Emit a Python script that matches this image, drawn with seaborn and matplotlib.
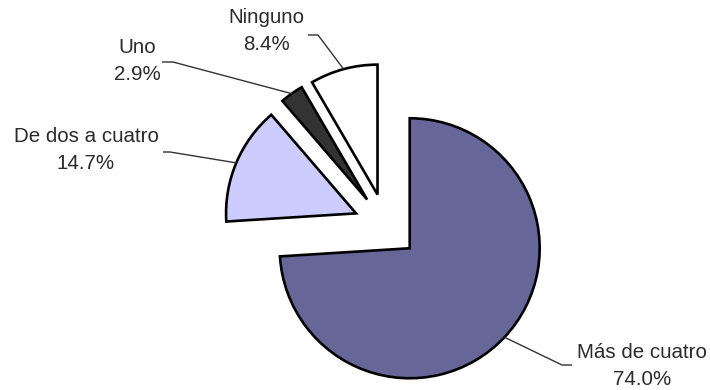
import numpy as np
import matplotlib
matplotlib.use("Agg")
import matplotlib.pyplot as plt
import seaborn as sns

# Share of households by number of items
categories = ["Ninguno", "Uno", "De dos a cuatro", "Más de cuatro"]
values = [8.4, 2.9, 14.7, 74.0]
colors = ["#FFFFFF", "#333333", "#CCCCFF", "#666699"]

sns.set_theme(style="white")
plt.rcParams["font.family"] = ["Liberation Sans", "DejaVu Sans"]

W, H, DPI = 710, 390, 100
fig = plt.figure(figsize=(W / DPI, H / DPI), dpi=DPI)
ax = fig.add_axes([0, 0, 1, 1])

R = 130.0          # pie radius in pixels
cx, cy = 386, 226  # pie centre in pixels (from top-left)
explode = 0.25

wedges, _ = ax.pie(
    values,
    colors=colors,
    startangle=90,
    counterclock=True,
    explode=[explode] * len(values),
    radius=1.0,
    center=(0, 0),
    wedgeprops=dict(edgecolor="black", linewidth=1.9, joinstyle="miter"),
)

ax.set_xlim(-cx / R, (W - cx) / R)
ax.set_ylim(-(H - cy) / R, cy / R)
ax.set_aspect("equal")
ax.axis("off")

def px(x, y):
    return (x - cx) / R, (cy - y) / R

# label layout: text centre and the text-side end of the leader (pixels)
label_pos = {
    "Ninguno": ((266, 31), (308, 35), (318, 35)),
    "Uno": ((137, 61), (162, 62), (173, 62)),
    "De dos a cuatro": ((86, 150), (163, 152), (170, 152)),
    "Más de cuatro": ((642, 366), (572, 365), (562, 365)),
}

for w, cat, val in zip(wedges, categories, values):
    mid = np.deg2rad((w.theta1 + w.theta2) / 2)
    ox, oy = w.center
    ax_pt = (ox + w.r * np.cos(mid), oy + w.r * np.sin(mid))
    (tx, ty), p0, p1 = label_pos[cat]
    a = px(*p0)
    b = px(*p1)
    ax.plot([a[0], b[0], ax_pt[0]], [a[1], b[1], ax_pt[1]],
            color="#333333", lw=1.0, solid_capstyle="butt")
    x, y = px(tx, ty)
    ax.text(x, y, f"{cat}\n{val:.1f}%", ha="center", va="center",
            fontsize=14.8, color="#2b2b2b", linespacing=1.5)

fig.savefig("out.png", dpi=DPI, facecolor="white")
